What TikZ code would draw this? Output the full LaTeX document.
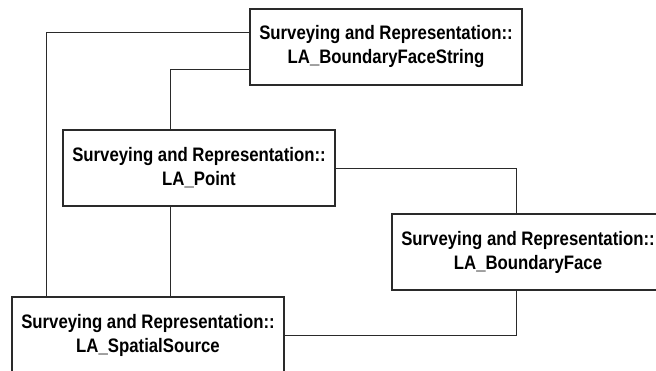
\documentclass[tikz,border=0pt]{standalone}
\usepackage{fontspec}
\usetikzlibrary{positioning}
\newfontfamily\umlfont{Liberation Sans}[FakeStretch=0.86]
\definecolor{linegray}{HTML}{2A2A2A}

\begin{document}
\begin{tikzpicture}[
    x=1pt, y=-1pt,
    font=\umlfont\bfseries\fontsize{19.5}{24}\selectfont,
    classbox/.style={rectangle, draw=linegray, line width=1.1pt, fill=white,
                     align=center, minimum width=272pt, minimum height=76pt,
                     inner sep=0pt},
    link/.style={draw=linegray, line width=0.9pt}
  ]
    % page frame; boxes at the right and bottom run past it
    \useasboundingbox (0,0) rectangle (656,371);
    \clip (0,0) rectangle (656,371);

    % Classes
    \node[classbox] (bfs) at (386, 47)  {Surveying and Representation::\\LA\_BoundaryFaceString};
    \node[classbox] (pt)  at (199, 168) {Surveying and Representation::\\LA\_Point};
    \node[classbox] (bf)  at (528, 252) {Surveying and Representation::\\LA\_BoundaryFace};
    \node[classbox] (ss)  at (148, 335) {Surveying and Representation::\\LA\_SpatialSource};

    % Associations
    \draw[link] ([yshift=15pt]bfs.west) -| ([xshift=-102pt]ss.north);
    \draw[link] ([yshift=-22pt]bfs.west) -| ([xshift=-29pt]pt.north);
    \draw[link] ([xshift=-29pt]pt.south) -- ([xshift=-29pt]pt.south |- ss.north);
    \draw[link] (pt.east) -| ([xshift=-12pt]bf.north);
    \draw[link] ([xshift=-12pt]bf.south) |- (ss.east);
\end{tikzpicture}
\end{document}
